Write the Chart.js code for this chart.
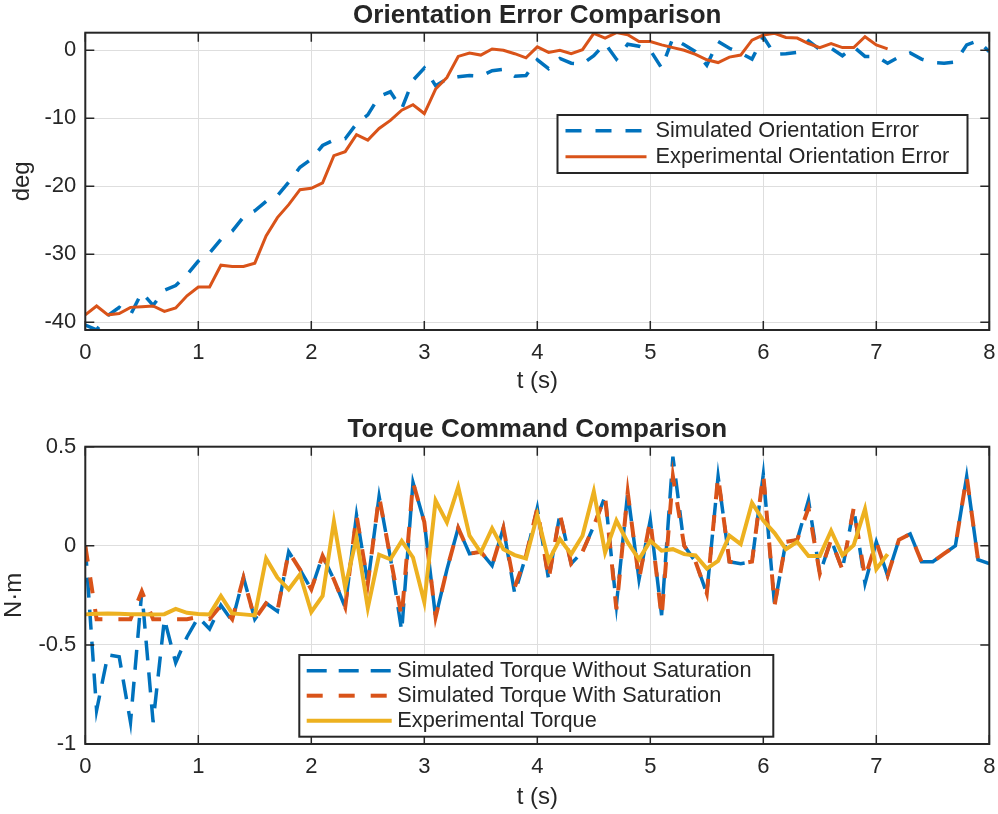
<!DOCTYPE html>
<html>
<head>
<meta charset="utf-8">
<script src="https://cdn.jsdelivr.net/npm/chart.js@4.4.0/dist/chart.umd.min.js"></script>
<style>
  body { margin:0; background:#fff; width:998px; height:814px; overflow:hidden; position:relative; }
  .panel { position:absolute; left:0; width:998px; }
  #topPanel { top:0; height:400px; }
  #botPanel { top:400px; height:414px; }
</style>
</head>
<body>
<div class="panel" id="topPanel"><canvas id="chartOri"></canvas></div>
<div class="panel" id="botPanel"><canvas id="chartTorque"></canvas></div>
<script>
// time bases (s)
const T_SIM = [0,0.1,0.2,0.3,0.4,0.5,0.6,0.7,0.8,0.9,1,1.1,1.2,1.3,1.4,1.5,1.6,1.7,1.8,1.9,
  2,2.1,2.2,2.3,2.4,2.5,2.6,2.7,2.8,2.9,3,3.1,3.2,3.3,3.4,3.5,3.6,3.7,3.8,3.9,
  4,4.1,4.2,4.3,4.4,4.5,4.6,4.7,4.8,4.9,5,5.1,5.2,5.3,5.4,5.5,5.6,5.7,5.8,5.9,
  6,6.1,6.2,6.3,6.4,6.5,6.6,6.7,6.8,6.9,7,7.1,7.2,7.3,7.4,7.5,7.6,7.7,7.8,7.9,8];
const T_EXP = T_SIM.slice(0, 72);

// orientation error (deg)
const ORI_SIM = [-40.4,-41.1,-39.0,-37.8,-38.9,-35.6,-37.5,-35.3,-34.6,-33.0,
  -31.0,-29.8,-27.8,-26.6,-24.5,-23.6,-22.2,-21.4,-19.4,-17.2,
  -16.0,-14.0,-13.2,-13.0,-10.8,-9.5,-6.8,-6.1,-8.6,-4.4,
  -2.6,-5.2,-4.2,-3.9,-3.7,-3.8,-3.0,-2.8,-3.8,-3.7,
  -1.4,-2.7,-1.2,-1.9,-2.0,-0.8,1.0,-1.3,0.9,0.6,
  0.0,-2.6,1.8,0.8,-0.2,-2.2,1.3,0.3,-0.4,-1.3,
  2.0,-0.6,-0.5,-0.3,1.4,0.1,0.3,-0.8,0.5,-0.9,
  -0.9,-1.9,-1.0,-0.4,-1.3,-1.8,-1.9,-1.7,0.8,1.4,-0.2];
const ORI_EXP = [-38.9,-37.6,-38.9,-38.7,-37.8,-37.7,-37.6,-38.4,-37.9,-36.1,
  -34.8,-34.8,-31.6,-31.8,-31.8,-31.3,-27.3,-24.6,-22.7,-20.5,
  -20.3,-19.5,-15.5,-14.9,-12.4,-13.2,-11.5,-10.3,-8.8,-8.0,
  -9.3,-5.7,-4.0,-0.9,-0.4,-0.7,0.2,0.0,-0.5,-1.1,
  0.5,-0.3,0.0,-0.5,0.1,2.5,1.8,2.6,2.3,1.3,
  1.3,0.8,0.4,0.0,-0.6,-1.4,-1.8,-1.0,-0.7,1.5,
  2.25,2.5,1.9,1.8,1.0,0.4,1.0,0.4,0.4,2.0,0.8,0.2];

// torque command (N·m)
const TQ_NOSAT = [0,-0.83,-0.55,-0.56,-0.89,-0.23,-0.89,-0.37,-0.59,-0.46,
  -0.36,-0.42,-0.30,-0.38,-0.16,-0.37,-0.29,-0.33,-0.03,-0.12,
  -0.22,-0.05,-0.17,-0.31,0.155,-0.19,0.25,-0.06,-0.43,0.32,
  0.12,-0.36,-0.12,0.09,-0.04,-0.03,-0.10,0.09,-0.24,-0.05,
  0.19,-0.17,0.16,-0.09,-0.03,0.10,0.25,-0.30,0.27,-0.17,
  0.13,-0.35,0.45,0.0,-0.08,-0.24,0.35,-0.08,-0.09,-0.08,
  0.36,-0.30,0.02,0.03,0.23,-0.14,0.03,-0.12,0.19,-0.19,
  0.02,-0.15,0.03,0.06,-0.08,-0.08,-0.04,0.0,0.35,-0.07,-0.09];
const TQ_SAT = [0,-0.37,-0.37,-0.37,-0.37,-0.23,-0.37,-0.37,-0.37,-0.37,
  -0.36,-0.37,-0.30,-0.37,-0.16,-0.37,-0.29,-0.33,-0.03,-0.12,
  -0.22,-0.05,-0.17,-0.31,0.155,-0.19,0.25,-0.06,-0.36,0.32,
  0.12,-0.36,-0.12,0.09,-0.04,-0.03,-0.10,0.09,-0.21,-0.05,
  0.19,-0.17,0.16,-0.09,-0.03,0.10,0.25,-0.32,0.27,-0.17,
  0.13,-0.36,0.35,0.0,-0.08,-0.24,0.35,-0.08,-0.09,-0.08,
  0.36,-0.30,0.02,0.03,0.19,-0.14,0.03,-0.12,0.19,-0.16,
  0.02,-0.15,0.03,0.06,-0.08,-0.08,-0.04,0.0,0.35,-0.07,-0.09];
const TQ_EXP = [-0.346,-0.343,-0.341,-0.343,-0.345,-0.345,-0.346,-0.345,-0.318,-0.338,
  -0.344,-0.346,-0.253,-0.341,-0.346,-0.351,-0.064,-0.160,-0.220,-0.144,
  -0.334,-0.253,0.122,-0.211,0.042,-0.313,-0.045,-0.068,0.025,-0.059,
  -0.284,0.228,0.118,0.296,0.051,-0.034,0.088,-0.017,-0.047,-0.064,
  0.155,-0.076,0.034,-0.042,0.051,0.274,-0.034,0.127,0.017,-0.068,
  0.025,-0.025,-0.017,-0.042,-0.049,-0.115,-0.076,0.051,0.008,0.216,
  0.127,0.064,-0.017,0.020,-0.051,-0.051,0.076,-0.047,0.003,0.186,-0.118,-0.042];

const X_TICKS = [0,1,2,3,4,5,6,7,8];
const ORI_TICKS = [-40,-30,-20,-10,0];
const TQ_TICKS = [-1,-0.5,0,0.5];

const INK = '#262626';
const FONT = "'Liberation Sans', Arial, Helvetica, sans-serif";
const BLUE = '#0072BD', ORANGE = '#D95319', YELLOW = '#EDB120';

function pts(ts, vs){ return vs.map((v,i) => ({x: ts[i], y: v})); }

// box, inward ticks and legend in MATLAB style
const matlabAxes = {
  id: 'matlabAxes',
  afterDraw(chart, args, opts){
    const {ctx, chartArea: a} = chart;
    const x = chart.scales.x, y = chart.scales.y;
    ctx.save();
    ctx.strokeStyle = INK;
    ctx.lineWidth = 1.5;
    ctx.beginPath();
    const tl = 9;
    x.ticks.forEach(t => {
      const px = x.getPixelForValue(t.value);
      ctx.moveTo(px, a.bottom); ctx.lineTo(px, a.bottom - tl);
      ctx.moveTo(px, a.top); ctx.lineTo(px, a.top + tl);
    });
    y.ticks.forEach(t => {
      const py = y.getPixelForValue(t.value);
      ctx.moveTo(a.left, py); ctx.lineTo(a.left + tl, py);
      ctx.moveTo(a.right, py); ctx.lineTo(a.right - tl, py);
    });
    ctx.stroke();
    ctx.lineWidth = 2;
    ctx.strokeRect(a.left, a.top, a.right - a.left, a.bottom - a.top);

    const L = opts.legend;
    if(L){
      ctx.fillStyle = '#fff';
      ctx.fillRect(L.x, L.y, L.w, L.h);
      ctx.lineWidth = 2;
      ctx.strokeStyle = INK;
      ctx.strokeRect(L.x, L.y, L.w, L.h);
      ctx.font = L.font;
      ctx.textBaseline = 'middle';
      chart.data.datasets.forEach((ds, i) => {
        const ry = L.y + L.row0 + i * L.rowGap;
        ctx.beginPath();
        ctx.strokeStyle = ds.borderColor;
        ctx.lineWidth = ds.borderWidth;
        ctx.setLineDash(ds.borderDash || []);
        ctx.moveTo(L.x + L.line0, ry); ctx.lineTo(L.x + L.line1, ry);
        ctx.stroke();
        ctx.setLineDash([]);
        ctx.fillStyle = INK;
        ctx.fillText(ds.label, L.x + L.text0, ry);
      });
    }
    ctx.restore();
  }
};

function axesOptions(cfg){
  return {
    responsive: true,
    maintainAspectRatio: false,
    animation: false,
    layout: { padding: { left: 0, right: 8.7, top: 0, bottom: 0 } },
    plugins: {
      legend: { display: false },
      tooltip: { enabled: false },
      title: {
        display: true, text: cfg.title, fullSize: false, color: INK,
        font: { family: FONT, size: 26, weight: 'bold', lineHeight: 1 },
        padding: cfg.titlePad
      },
      matlabAxes: { legend: cfg.legend }
    },
    scales: {
      x: {
        type: 'linear', min: 0, max: 8,
        afterBuildTicks: s => { s.ticks = X_TICKS.map(v => ({value: v})); },
        afterFit: s => { s.height = 70; s.paddingLeft = 0; s.paddingRight = 0; },
        grid: { color: '#dedede', lineWidth: 1, drawTicks: false },
        border: { display: false },
        ticks: { color: INK, padding: 10, font: { family: FONT, size: 22 }, callback: v => String(v) },
        title: { display: true, text: 't (s)', color: INK, font: { family: FONT, size: 24, lineHeight: 1 }, padding: { top: 0, bottom: cfg.xTitlePad } }
      },
      y: {
        type: 'linear', min: cfg.yMin, max: cfg.yMax,
        afterBuildTicks: s => { s.ticks = cfg.yTicks.map(v => ({value: v})); },
        afterFit: s => { s.width = 85.3; s.paddingTop = 0; s.paddingBottom = 0; },
        grid: { color: '#dedede', lineWidth: 1, drawTicks: false },
        border: { display: false },
        ticks: { color: INK, padding: 9, font: { family: FONT, size: 22 }, callback: v => String(v) },
        title: { display: true, text: cfg.yLabel, color: INK, font: { family: FONT, size: 24, lineHeight: 1 }, padding: { top: cfg.yTitlePad, bottom: 0 } }
      }
    }
  };
}

new Chart(document.getElementById('chartOri'), {
  type: 'line',
  data: {
    datasets: [
      { label: 'Simulated Orientation Error', data: pts(T_SIM, ORI_SIM), borderColor: BLUE, borderWidth: 3.5, borderDash: [16, 14], order: 2 },
      { label: 'Experimental Orientation Error', data: pts(T_EXP, ORI_EXP), borderColor: ORANGE, borderWidth: 3, order: 1 }
    ].map(d => Object.assign(d, { pointRadius: 0, tension: 0, fill: false, clip: 0 }))
  },
  options: axesOptions({
    title: 'Orientation Error Comparison', titlePad: { top: 3, bottom: 3.7 },
    yMin: -41.13, yMax: 2.59, yTicks: ORI_TICKS, yLabel: 'deg', yTitlePad: 10, xTitlePad: 7,
    legend: { x: 557.5, y: 115, w: 410, h: 58, row0: 15.7, rowGap: 26, line0: 8, line1: 89, text0: 98, font: "21.75px " + FONT }
  }),
  plugins: [matlabAxes]
});

new Chart(document.getElementById('chartTorque'), {
  type: 'line',
  data: {
    datasets: [
      { label: 'Simulated Torque Without Saturation', data: pts(T_SIM, TQ_NOSAT), borderColor: BLUE, borderWidth: 3.5, borderDash: [20, 12], order: 3 },
      { label: 'Simulated Torque With Saturation', data: pts(T_SIM, TQ_SAT), borderColor: ORANGE, borderWidth: 4, borderDash: [16, 16], order: 2 },
      { label: 'Experimental Torque', data: pts(T_EXP, TQ_EXP), borderColor: YELLOW, borderWidth: 4, order: 1 }
    ].map(d => Object.assign(d, { pointRadius: 0, tension: 0, fill: false, clip: 0 }))
  },
  options: axesOptions({
    title: 'Torque Command Comparison', titlePad: { top: 16.5, bottom: 4.2 },
    yMin: -1, yMax: 0.5, yTicks: TQ_TICKS, yLabel: 'N·m', yTitlePad: 2, xTitlePad: 5,
    legend: { x: 299.3, y: 255, w: 474, h: 81.7, row0: 15.7, rowGap: 25, line0: 7.4, line1: 92.4, text0: 98, font: "21.75px " + FONT }
  }),
  plugins: [matlabAxes]
});
</script>
</body>
</html>
